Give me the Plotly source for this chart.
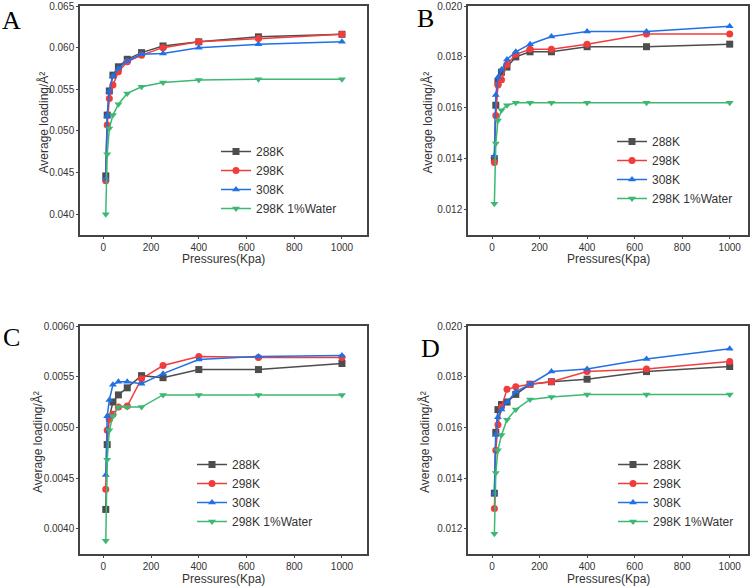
import plotly.graph_objects as go

pressures = [10, 16, 25, 40, 63, 100, 160, 250, 400, 650, 1000]
series_names = ["288K", "298K", "308K", "298K 1%Water"]

A_288 = [0.0446, 0.0519, 0.0548, 0.0567, 0.0577, 0.0586, 0.0594, 0.0602, 0.0607, 0.0613, 0.0616]
A_298 = [0.0440, 0.0507, 0.0539, 0.0555, 0.0571, 0.0583, 0.0591, 0.0600, 0.0607, 0.0611, 0.0616]
A_308 = [0.0442, 0.0518, 0.0548, 0.0566, 0.0575, 0.0584, 0.0592, 0.0593, 0.0600, 0.0604, 0.0607]
A_wat = [0.0400, 0.0472, 0.0503, 0.0519, 0.0532, 0.0545, 0.0553, 0.0558, 0.0561, 0.0562, 0.0562]

B_288 = [0.01400, 0.0161, 0.0170, 0.0174, 0.0176, 0.0180, 0.0182, 0.0182, 0.0184, 0.0184, 0.0185]
B_298 = [0.01385, 0.0157, 0.0169, 0.0171, 0.0177, 0.0181, 0.0183, 0.0183, 0.0185, 0.0189, 0.0189]
B_308 = [0.0141, 0.0165, 0.0172, 0.0175, 0.0179, 0.0182, 0.0185, 0.0188, 0.0190, 0.0190, 0.0192]
B_wat = [0.01223, 0.0146, 0.0155, 0.0159, 0.0161, 0.0162, 0.0162, 0.0162, 0.0162, 0.0162, 0.0162]

C_288 = [0.00419, 0.00483, 0.00510, 0.00525, 0.00532, 0.00539, 0.00551, 0.00549, 0.00557, 0.00557, 0.00563]
C_298 = [0.00439, 0.00497, 0.00508, 0.00513, 0.00520, 0.00521, 0.00548, 0.00561, 0.00570, 0.00569, 0.00569]
C_308 = [0.00453, 0.00511, 0.00527, 0.00542, 0.00545, 0.00545, 0.00543, 0.00553, 0.00567, 0.00570, 0.00571]
C_wat = [0.00388, 0.00468, 0.00497, 0.00511, 0.00520, 0.00520, 0.00520, 0.00532, 0.00532, 0.00532, 0.00532]

D_288 = [0.0134, 0.0158, 0.0167, 0.0169, 0.0170, 0.0173, 0.0177, 0.0178, 0.0179, 0.0182, 0.0184]
D_298 = [0.0128, 0.0151, 0.0161, 0.0168, 0.0175, 0.0176, 0.0177, 0.0178, 0.0182, 0.0183, 0.0186]
D_308 = [0.0134, 0.0157, 0.0164, 0.0167, 0.0170, 0.0174, 0.0177, 0.0182, 0.0183, 0.0187, 0.0191]
D_wat = [0.0118, 0.0142, 0.0151, 0.0157, 0.0163, 0.0167, 0.0171, 0.0172, 0.0173, 0.0173, 0.0173]

x_title = "Pressures(Kpa)"
y_title = "Average loading/Å²"

panels = [
    ("A", [A_288, A_298, A_308, A_wat]),
    ("B", [B_288, B_298, B_308, B_wat]),
    ("C", [C_288, C_298, C_308, C_wat]),
    ("D", [D_288, D_298, D_308, D_wat]),
]

colors = ["#4d4d4d", "#f23c3c", "#2070e6", "#3cb873"]
symbols = ["square", "circle", "triangle-up", "triangle-down"]

W, H = 756, 588
# plot-area pixel boxes (left, right, top, bottom)
boxes = {
    "A": (80, 367, 6, 235),
    "B": (468, 748, 6, 235),
    "C": (80, 367, 326, 554),
    "D": (468, 748, 326, 554),
}
xranges = {"A": [-98, 1105], "B": [-101, 1077], "C": [-98, 1105], "D": [-101, 1077]}
yranges = {"A": [0.0375, 0.065], "B": [0.011, 0.020], "C": [0.00375, 0.006], "D": [0.011, 0.020]}
ydtick = {"A": 0.005, "B": 0.002, "C": 0.0005, "D": 0.002}
yfmt = {"A": ".3f", "B": ".3f", "C": ".4f", "D": ".3f"}
# legend top-left pixel
legpos = {"A": (216, 137), "B": (612, 127), "C": (192, 450), "D": (613, 450)}
labelpos = {"A": (11, 20), "B": (425, 19), "C": (11, 337), "D": (430, 348)}
ytitle_x = {"A": 43, "B": 427, "C": 38, "D": 425}
xtitle_y = {"A": 259, "B": 259, "C": 579, "D": 579}

font_family = "Liberation Sans, Arial, sans-serif"
fig = go.Figure()
layout = dict(
    width=W, height=H,
    margin=dict(l=0, r=0, t=0, b=0),
    paper_bgcolor="white", plot_bgcolor="white",
    font=dict(family=font_family, size=12, color="#333333"),
)
annotations = []
for i, (name, data) in enumerate(panels):
    k = "" if i == 0 else str(i + 1)
    l, r, t, b = boxes[name]
    xa = "xaxis" + k
    ya = "yaxis" + k
    leg = "legend" + k
    for j, ys in enumerate(data):
        fig.add_trace(go.Scatter(
            x=pressures, y=ys, mode="lines+markers", name=series_names[j],
            line=dict(color=colors[j], width=1.5),
            marker=dict(symbol=symbols[j], size=7, color=colors[j]),
            xaxis="x" + k, yaxis="y" + k, legend=leg,
        ))
    layout[xa] = dict(
        domain=[l / W, r / W], anchor="y" + k, range=xranges[name],
        tickvals=[0, 200, 400, 600, 800, 1000], showgrid=False, zeroline=False,
        showline=True, linecolor="#444444", linewidth=1.5, mirror=True,
        ticks="outside", ticklen=2, tickcolor="#444444",
        tickfont=dict(size=10, color="#333333"),
        automargin=False,
    )
    layout[ya] = dict(
        domain=[1 - b / H, 1 - t / H], anchor="x" + k, range=yranges[name],
        dtick=ydtick[name], tick0=0, tickformat=yfmt[name], showgrid=False, zeroline=False,
        showline=True, linecolor="#444444", linewidth=1.5, mirror=True,
        ticks="outside", ticklen=2, tickcolor="#444444",
        tickfont=dict(size=10, color="#333333"),
        automargin=False,
    )
    lx, ly = legpos[name]
    layout[leg] = dict(
        x=lx / W, y=1 - ly / H, xanchor="left", yanchor="top",
        bgcolor="rgba(0,0,0,0)", borderwidth=0,
        font=dict(size=12, color="#333333"), tracegroupgap=0, itemwidth=30,
    )
    px, py = labelpos[name]
    annotations.append(dict(
        text=name, x=px / W, y=1 - py / H, xref="paper", yref="paper",
        showarrow=False, xanchor="center", yanchor="middle",
        font=dict(family="Liberation Serif, Times New Roman, serif", size=26, color="#000000"),
    ))
    annotations.append(dict(
        text=x_title, x=(l + r) / 2 / W, y=1 - xtitle_y[name] / H, xref="paper", yref="paper",
        showarrow=False, xanchor="center", yanchor="middle",
        font=dict(size=12, color="#333333"),
    ))
    annotations.append(dict(
        text=y_title, x=ytitle_x[name] / W, y=1 - ((t + b) / 2 + 2) / H, xref="paper", yref="paper",
        showarrow=False, xanchor="center", yanchor="middle", textangle=-90,
        font=dict(size=12, color="#333333"),
    ))
layout["annotations"] = annotations
fig.update_layout(**layout)
fig.write_html("out.html")
